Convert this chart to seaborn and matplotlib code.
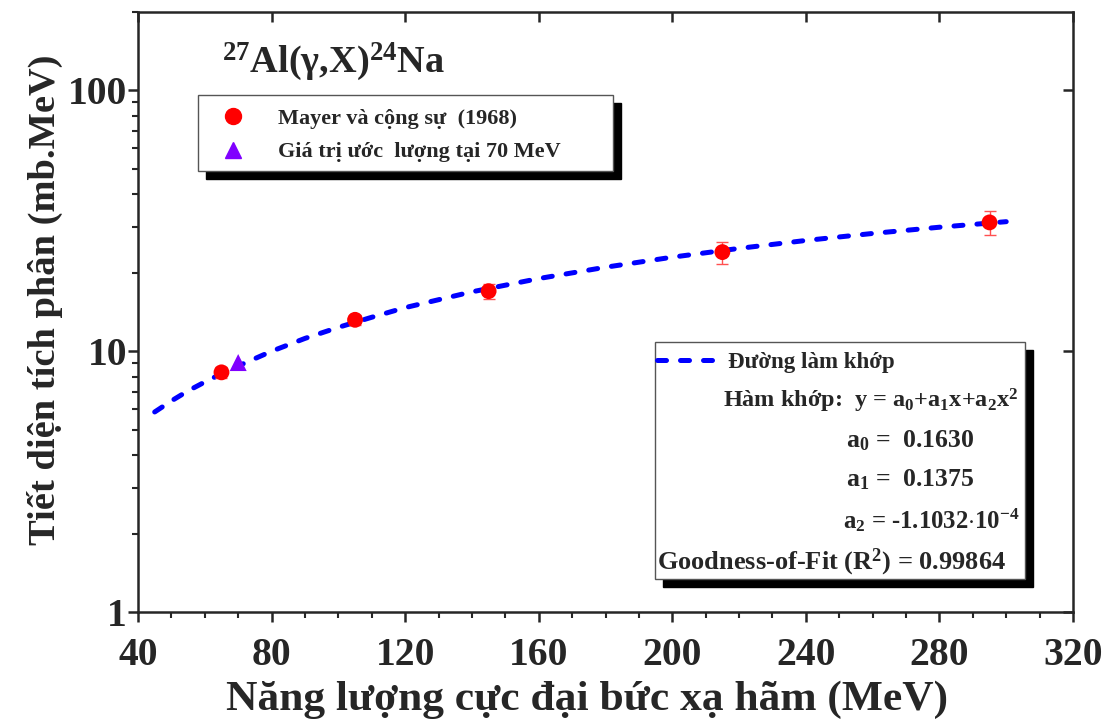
import matplotlib
matplotlib.use("Agg")
import matplotlib.pyplot as plt
import seaborn as sns
import pandas as pd
from matplotlib.patches import Rectangle
from matplotlib.lines import Line2D
from matplotlib.ticker import MultipleLocator, LogLocator, NullFormatter, FixedLocator, FixedFormatter

# ---- data ----
energy_mayer = [65, 105, 145, 215, 295]
yield_mayer = [8.3, 13.2, 17.0, 24.0, 31.2]
err_mayer = [0.4, 0.6, 1.1, 2.3, 3.3]
energy_est = [70]
yield_est = [9.05]
fit_x = [45, 50, 55, 60, 65, 70, 80, 90, 100, 110, 120, 140, 160, 180, 200, 220, 240, 260, 280, 300]
fit_y = [5.85, 6.45, 7.05, 7.62, 8.2, 8.78, 10.0, 11.2, 12.35, 13.5, 14.7, 16.9, 19.0, 21.0, 22.95, 24.8, 26.6, 28.3, 29.9, 31.4]
x_ticks = [40, 80, 120, 160, 200, 240, 280, 320]
y_ticks = [1, 10, 100]
y_tick_labels = ["1", "10", "100"]

W, H = 1113, 724
sns.set_style("ticks")
plt.rcParams["font.family"] = ["Liberation Serif", "DejaVu Serif"]
plt.rcParams["font.weight"] = "bold"
plt.rcParams["mathtext.fontset"] = "custom"
plt.rcParams["mathtext.rm"] = "Liberation Serif:bold"
plt.rcParams["mathtext.it"] = "Liberation Serif:bold"
plt.rcParams["mathtext.bf"] = "Liberation Serif:bold"

def fx(x):
    return x / W

def fy(y):
    return 1 - y / H

fig = plt.figure(figsize=(W / 100, H / 100), dpi=100)
ax = fig.add_axes([fx(138), fy(612), fx(1073) - fx(138), fy(12) - fy(612)])

df_m = pd.DataFrame({"E": energy_mayer, "Y": yield_mayer})
df_e = pd.DataFrame({"E": energy_est, "Y": yield_est})
df_f = pd.DataFrame({"E": fit_x, "Y": fit_y})

sns.lineplot(data=df_f, x="E", y="Y", ax=ax, color="#0000ff", lw=3.6,
             linestyle=(0, (1.8, 2.8)), dash_capstyle="round", zorder=2)
ax.errorbar(energy_mayer, yield_mayer, yerr=err_mayer, fmt="none",
            ecolor="#ff5050", elinewidth=1.0, capsize=4.5, capthick=1.0, zorder=3)
sns.scatterplot(data=df_m, x="E", y="Y", ax=ax, color="#ff0000", marker="o",
                s=130, edgecolor="none", zorder=4)
sns.scatterplot(data=df_e, x="E", y="Y", ax=ax, color="#8000ff", marker="^",
                s=150, edgecolor="none", zorder=4)

ax.set_yscale("log")
ax.set_xlim(40, 320)
ax.set_ylim(1, 200)
ax.xaxis.set_major_locator(FixedLocator(x_ticks))
ax.xaxis.set_minor_locator(MultipleLocator(10))
ax.yaxis.set_major_locator(FixedLocator(y_ticks))
ax.yaxis.set_major_formatter(FixedFormatter(y_tick_labels))
ax.yaxis.set_minor_locator(LogLocator(base=10, subs=range(2, 10)))
ax.yaxis.set_minor_formatter(NullFormatter())
ax.tick_params(which="major", direction="out", length=7, width=1.8, labelsize=28.5)
ax.tick_params(which="minor", direction="out", length=4, width=1.5)
ax.tick_params(axis="x", pad=11)
ax.tick_params(axis="y", pad=1)
for s in ax.spines.values():
    s.set_linewidth(1.8)
    s.set_visible(True)

# inward ticks on top and right
axt = ax.twiny()
axt.set_xlim(40, 320)
axt.xaxis.set_major_locator(FixedLocator(x_ticks))
axt.tick_params(axis="x", direction="in", length=7, width=1.8, labeltop=False)
axr = ax.twinx()
axr.set_yscale("log")
axr.set_ylim(1, 200)
axr.yaxis.set_major_locator(FixedLocator(y_ticks))
axr.yaxis.set_minor_locator(FixedLocator([]))
axr.tick_params(axis="y", direction="in", length=7, width=1.8, labelright=False)
for a in (axt, axr):
    for s in a.spines.values():
        s.set_visible(False)

ax.set_xlabel("Năng lượng cực đại bức xạ hãm (MeV)", fontsize=31.3, fontweight="bold")
ax.xaxis.set_label_coords((587 - 138) / 935, -(700 - 612) / 600)
ax.xaxis.label.set_va("center")
ax.set_ylabel("Tiết diện tích phân (mb.MeV)", fontsize=27.7, fontweight="bold")
ax.yaxis.set_label_coords((45 - 138) / 935, (612 - 300) / 600)
ax.yaxis.label.set_va("center")

# title inside plot
fig.text(fx(222), fy(62), r"$^{27}$Al(γ,X)$^{24}$Na", fontsize=27.5, fontweight="bold",
         ha="left", va="center")

# legend boxes with black shadows
def box(x0, y0, x1, y1, off=8):
    ax.add_patch(Rectangle((fx(x0 + off), fy(y1 + off)), fx(x1 - x0), fy(y0) - fy(y1),
                           transform=fig.transFigure, facecolor="black", edgecolor="black",
                           zorder=6, clip_on=False))
    ax.add_patch(Rectangle((fx(x0), fy(y1)), fx(x1 - x0), fy(y0) - fy(y1),
                           transform=fig.transFigure, facecolor="white", edgecolor="#555555",
                           lw=1.0, zorder=7, clip_on=False))

box(198, 95, 613, 171, off=8)
box(655, 342, 1025, 579, off=8)

h1 = [Line2D([], [], ls="none", marker="o", color="#ff0000", markersize=11.5),
      Line2D([], [], ls="none", marker="^", color="#8000ff", markersize=12)]
leg1 = ax.legend(h1, ["Mayer và cộng sự  (1968)", "Giá trị ước  lượng tại 70 MeV"],
                 loc="upper left", bbox_to_anchor=(fx(211), fy(108)),
                 bbox_transform=fig.transFigure, frameon=False,
                 prop={"size": 16, "weight": "bold"}, handlelength=2.0,
                 handletextpad=1.0, labelspacing=0.6, borderpad=0, borderaxespad=0)
leg1.set_zorder(10)
ax.add_artist(leg1)

h2 = [Line2D([], [], color="#0000ff", lw=3.6, ls=(0, (1.8, 2.8)), dash_capstyle="round")]
leg2 = ax.legend(h2, ["Đường làm khớp"], loc="center left",
                 bbox_to_anchor=(fx(657), fy(362)), bbox_transform=fig.transFigure,
                 frameon=False, prop={"size": 16.5, "weight": "bold"},
                 handlelength=2.6, handletextpad=0.5, borderpad=0, borderaxespad=0)
leg2.set_zorder(10)

fit_lines = [
    (723, 401, r"Hàm khớp:  y = a$_0$+a$_1$x+a$_2$x$^2$", 17.5),
    (846, 441, r"a$_0$ =  0.1630", 18.5),
    (846, 480, r"a$_1$ =  0.1375", 18.5),
    (843, 520, r"a$_2$ = -1.1032$\cdot$10$^{-4}$", 17.8),
    (657, 562, r"Goodness-of-Fit (R$^2$) = 0.99864", 19),
]
for x, y, t, fs in fit_lines:
    fig.text(fx(x), fy(y), t, fontsize=fs, fontweight="bold", ha="left", va="center", zorder=12)

fig.savefig("out.png", dpi=100)
